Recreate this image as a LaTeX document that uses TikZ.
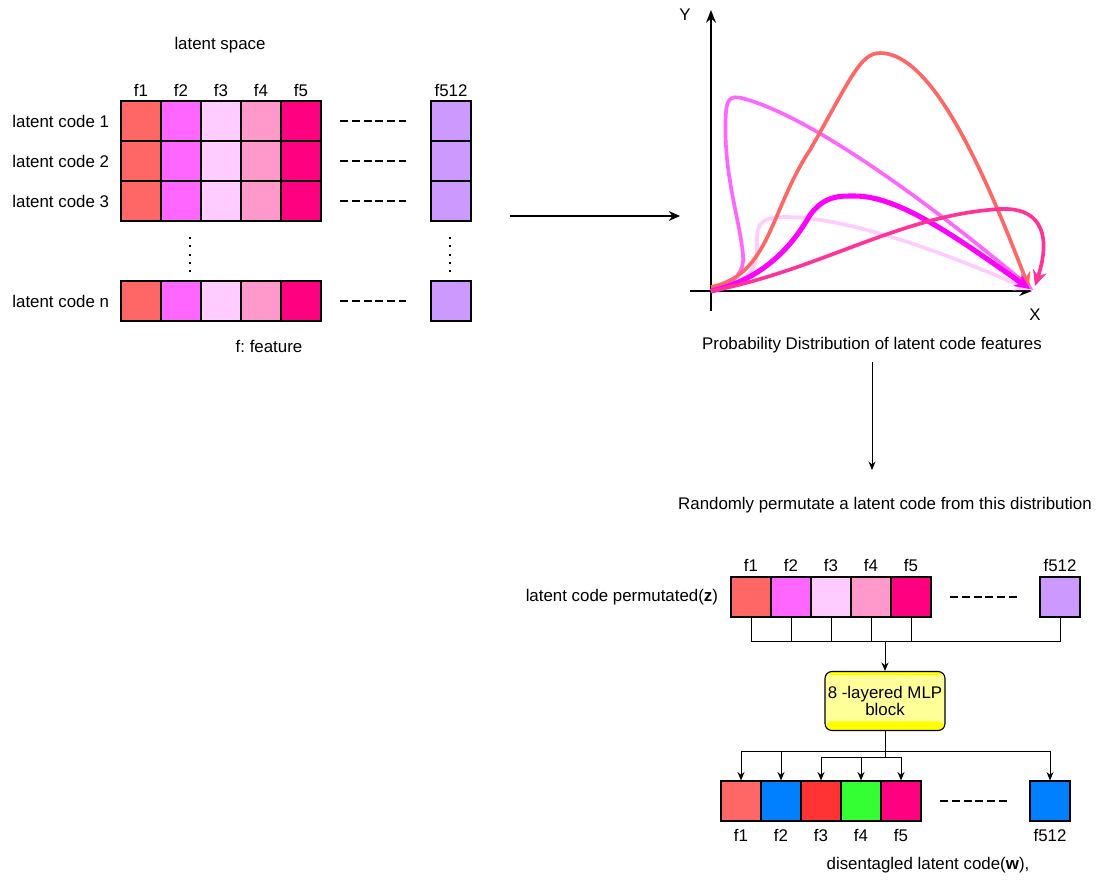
\documentclass[tikz,border=0pt]{standalone}
\usepackage{fontspec}
\setmainfont{Liberation Sans}
\usetikzlibrary{arrows.meta}

\definecolor{feat1}{HTML}{FF6666}
\definecolor{feat2}{HTML}{FF66FF}
\definecolor{feat3}{HTML}{FFCCFF}
\definecolor{feat4}{HTML}{FF99CC}
\definecolor{feat5}{HTML}{FF0080}
\definecolor{featlast}{HTML}{CC99FF}
\definecolor{wblue}{HTML}{007FFF}
\definecolor{wred}{HTML}{FF3333}
\definecolor{wgreen}{HTML}{33FF33}
\definecolor{curvemag}{HTML}{FF00FF}
\definecolor{curvedeep}{HTML}{FF3399}
\definecolor{mlplight}{HTML}{FFFF99}
\definecolor{mlpband}{HTML}{FFFF00}

\tikzset{
  cell/.style={draw, line width=0.8pt, minimum size=1cm, inner sep=0pt},
  dashline/.style={line width=1.4pt, dash pattern=on 5.7pt off 2.7pt},
  dotline/.style={line width=1.4pt, dash pattern=on 1.4pt off 4.5pt},
  conn/.style={line width=0.7pt},
  curve/.style={line width=2.6pt, -{Stealth[length=11pt,width=10pt]}},
  mlpbox/.style={draw, line width=0.8pt, rounded corners=5pt, fill=mlplight,
    minimum width=3cm, minimum height=1.475cm, inner sep=0pt, align=center,
    font=\fontsize{12}{12}\selectfont,
    path picture={
      \fill[mlpband] (path picture bounding box.north west) rectangle ([yshift=-2.5pt]path picture bounding box.north east);
      \fill[mlpband] (path picture bounding box.south west) rectangle ([yshift=6.5pt]path picture bounding box.south east);
    }},
}

\begin{document}
\frenchspacing
\begin{tikzpicture}[x=0.025cm, y=-0.025cm, font=\fontsize{12}{14}\selectfont,
  >={Stealth[length=6pt,width=5pt]}]
\useasboundingbox (0,0) rectangle (1106,882);

% --- Latent space grid ---
\node (title) at (220,45) {latent space};
\foreach \k/\x in {1/141, 2/181, 3/221, 4/261, 5/301} {
    \node (h-\k) at (\x,90) {f\k};
}
\node (h-l) at (451,90) {f512};

\foreach \row/\y in {1/121, 2/161, 3/201, n/301} {
    \foreach \k/\x/\col in {1/141/feat1, 2/181/feat2, 3/221/feat3, 4/261/feat4, 5/301/feat5} {
        \node[cell, fill=\col] (g\row-\k) at (\x,\y) {};
    }
    \node[cell, fill=featlast] (g\row-l) at (451,\y) {};
    \node[anchor=east] (lab-\row) at (114,\y) {latent code \row};
    \draw[dashline] (340,\y) -- (406,\y);
}
\draw[dotline] (190,237) -- (190,274);
\draw[dotline] (450,237) -- (450,274);
\node (legend) at (269,346) {f: feature};

% --- Arrow to the plot ---
\coordinate (gridout) at (510,216);
\coordinate (plotin) at (680,216);
\draw[line width=1pt, -{Stealth[length=8pt,width=7pt]}] (gridout) -- (plotin);

% --- Distribution plot ---
\draw[line width=1.3pt, -{Stealth[length=9pt,width=7pt]}] (711,311) -- (711,10);
\draw[line width=1.3pt, -{Stealth[length=9pt,width=7pt]}] (690,291) -- (1032,291);
\node (ylab) at (685,15) {Y};
\node (xlab) at (1035,315) {X};

\draw[curve, feat3] (711,291) .. controls (745,285) and (757,270) .. (757,250)
    .. controls (757,228) and (755,217) .. (785,217)
    .. controls (850,217) and (950,255) .. (1030,290);
\draw[curve, feat2] (711,291) .. controls (735,285) and (745,270) .. (743,255)
    .. controls (740,220) and (722,170) .. (726,112)
    .. controls (727,95) and (735,96) .. (745,99)
    .. controls (820,120) and (950,220) .. (1033,290);
\draw[curve, feat1] (711,287) .. controls (770,275) and (770,210) .. (810,150)
    .. controls (850,80) and (860,53) .. (880,53)
    .. controls (930,53) and (980,160) .. (1029,288);
\draw[curve, curvemag, line width=3.6pt] (711,291) .. controls (760,280) and (790,250) .. (810,215)
    .. controls (825,195) and (840,196) .. (855,196)
    .. controls (900,196) and (960,240) .. (1030,289);
\draw[curve, curvedeep] (711,291) .. controls (820,270) and (900,215) .. (1000,209)
    .. controls (1045,207) and (1050,240) .. (1035,286);

\node (caption) at (872,345) {Probability Distribution of latent code features};

% --- Sampling ---
\coordinate (capdown) at (872,362);
\coordinate (randup) at (872,470);
\draw[conn, ->] (capdown) -- (randup);
\node (sample) at (885,505) {Randomly permutate a latent code from this distribution};

% --- Permutated latent code (z) ---
\foreach \k/\x/\col in {1/751/feat1, 2/791/feat2, 3/831/feat3, 4/871/feat4, 5/911/feat5} {
    \node[cell, fill=\col] (z-\k) at (\x,597) {};
    \node (zh-\k) at (\x,565) {f\k};
}
\node[cell, fill=featlast] (z-l) at (1060,597) {};
\node (zh-l) at (1060,565) {f512};
\node[anchor=east] (zlab) at (723,597) {latent code permutated(\textbf{z})};
\draw[dashline] (950,597) -- (1017,597);

% --- MLP block ---
\node[mlpbox] (mlp) at (885,701) {8 -layered MLP\\block};
\coordinate (zbus) at (885,641);
\foreach \k in {1,2,3,4,5,l} {
    \draw[conn] (z-\k.south) |- (zbus);
}
\draw[conn, ->] (zbus) -- (mlp.north);

% --- Disentangled latent code (w) ---
\foreach \k/\x/\col in {1/741/feat1, 2/781/wblue, 3/821/wred, 4/861/wgreen, 5/901/feat5} {
    \node[cell, fill=\col] (w-\k) at (\x,801) {};
    \node (wh-\k) at (\x,835) {f\k};
}
\node[cell, fill=wblue] (w-l) at (1050,801) {};
\node (wh-l) at (1050,835) {f512};
\draw[dashline] (940,801) -- (1007,801);
\node (wlab) at (928,865) {disentagled latent code(\textbf{w}),};

\coordinate (splitA) at (885,751);
\coordinate (splitB) at (885,757);
\foreach \k in {1,2,l} {
    \draw[conn, ->] (mlp.south) -- (splitA) -| (w-\k.north);
}
\foreach \k in {3,4,5} {
    \draw[conn, ->] (mlp.south) -- (splitB) -| (w-\k.north);
}

\end{tikzpicture}
\end{document}
